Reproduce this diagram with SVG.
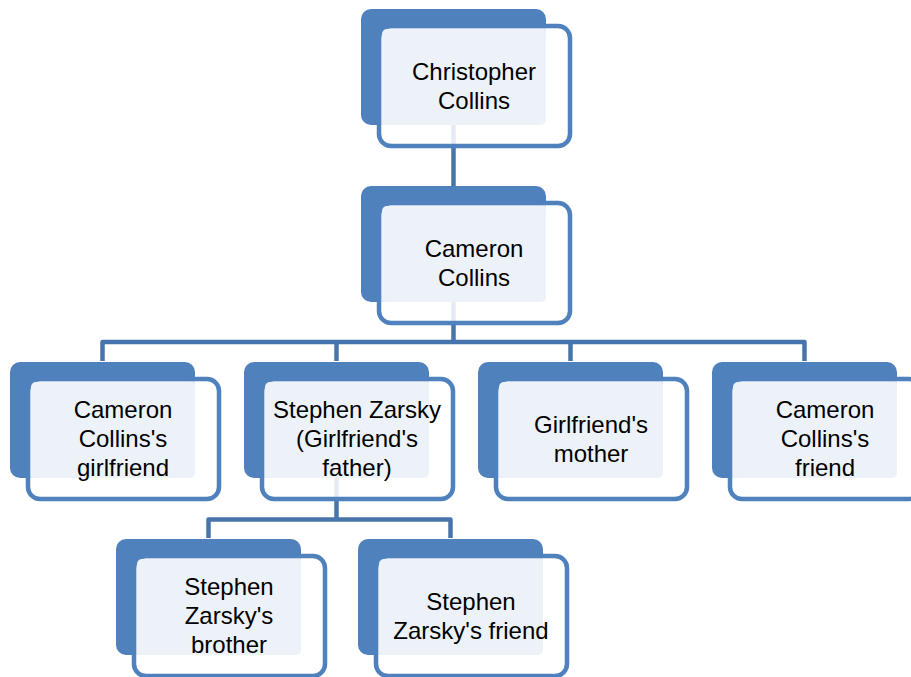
<svg xmlns="http://www.w3.org/2000/svg" width="911" height="677" viewBox="0 0 911 677">
<style>
.back{fill:#4F81BD}
.frame{fill:#FFFFFF;fill-opacity:0.86;stroke:#4F81BD;stroke-width:4.5}
.inner{fill:#EDF2F9}
.conn{fill:none;stroke:#4774AB;stroke-width:4.5;stroke-linejoin:round}
text{font-family:"Liberation Sans",Arial,sans-serif;font-size:24px;fill:#000;text-anchor:middle}
</style>
<rect width="911" height="677" fill="#FFFFFF"/>
<g id="connectors">
<path class="conn" d="M453.5 120 V186"/>
<path class="conn" d="M453.5 300 V342"/>
<path class="conn" d="M102.5 361 V342 H804.5 V361"/>
<path class="conn" d="M336.5 342 V361"/>
<path class="conn" d="M570.5 342 V361"/>
<path class="conn" d="M336.5 470 V519.5"/>
<path class="conn" d="M208.5 538 V519.5 H450.5 V538"/>
</g>
<g id="n-christopher">
<rect class="back" x="361" y="9" width="185" height="116" rx="10"/>
<rect class="frame" x="379" y="26" width="191" height="120" rx="12"/>
<rect class="inner" x="382" y="29" width="164" height="96" rx="5"/>
<text x="474" y="79.5">Christopher</text>
<text x="474" y="108.5">Collins</text>
</g>
<g id="n-cameron">
<rect class="back" x="361" y="186" width="185" height="116" rx="10"/>
<rect class="frame" x="379" y="203" width="191" height="120" rx="12"/>
<rect class="inner" x="382" y="206" width="164" height="96" rx="5"/>
<text x="474" y="256.5">Cameron</text>
<text x="474" y="285.5">Collins</text>
</g>
<g id="n-girlfriend">
<rect class="back" x="10" y="362" width="185" height="116" rx="10"/>
<rect class="frame" x="28" y="379" width="191" height="120" rx="12"/>
<rect class="inner" x="31" y="382" width="164" height="96" rx="5"/>
<text x="123" y="418">Cameron</text>
<text x="123" y="447">Collins's</text>
<text x="123" y="476">girlfriend</text>
</g>
<g id="n-stephen">
<rect class="back" x="244" y="362" width="185" height="116" rx="10"/>
<rect class="frame" x="262" y="379" width="191" height="120" rx="12"/>
<rect class="inner" x="265" y="382" width="164" height="96" rx="5"/>
<text x="357" y="418">Stephen Zarsky</text>
<text x="357" y="447">(Girlfriend's</text>
<text x="357" y="476">father)</text>
</g>
<g id="n-mother">
<rect class="back" x="478" y="362" width="185" height="116" rx="10"/>
<rect class="frame" x="496" y="379" width="191" height="120" rx="12"/>
<rect class="inner" x="499" y="382" width="164" height="96" rx="5"/>
<text x="591" y="432.5">Girlfriend's</text>
<text x="591" y="461.5">mother</text>
</g>
<g id="n-friend">
<rect class="back" x="712" y="362" width="185" height="116" rx="10"/>
<rect class="frame" x="730" y="379" width="191" height="120" rx="12"/>
<rect class="inner" x="733" y="382" width="164" height="96" rx="5"/>
<text x="825" y="418">Cameron</text>
<text x="825" y="447">Collins's</text>
<text x="825" y="476">friend</text>
</g>
<g id="n-brother">
<rect class="back" x="116" y="539" width="185" height="116" rx="10"/>
<rect class="frame" x="134" y="556" width="191" height="120" rx="12"/>
<rect class="inner" x="137" y="559" width="164" height="96" rx="5"/>
<text x="229" y="595">Stephen</text>
<text x="229" y="624">Zarsky's</text>
<text x="229" y="653">brother</text>
</g>
<g id="n-sfriend">
<rect class="back" x="358" y="539" width="185" height="116" rx="10"/>
<rect class="frame" x="376" y="556" width="191" height="120" rx="12"/>
<rect class="inner" x="379" y="559" width="164" height="96" rx="5"/>
<text x="471" y="609.5">Stephen</text>
<text x="471" y="638.5">Zarsky's friend</text>
</g>
</svg>
